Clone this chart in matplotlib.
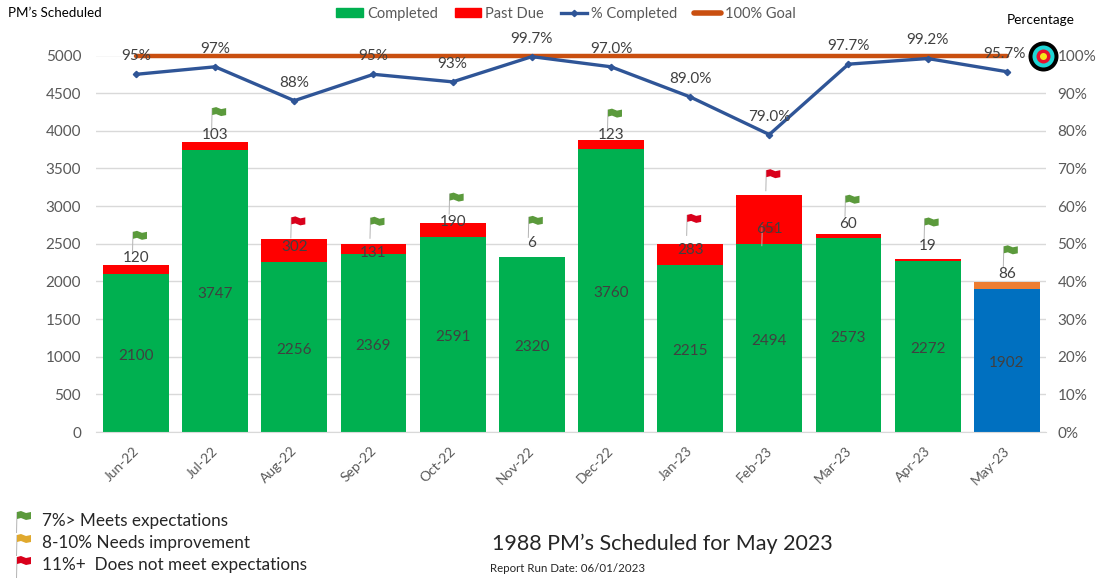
"""
PM's scheduled per month: stacked completed / past due bars with % completed line.
"""

import matplotlib
matplotlib.use("Agg")
import matplotlib.pyplot as plt
from matplotlib.lines import Line2D
from matplotlib.patches import Patch, Polygon
from matplotlib.transforms import Affine2D, ScaledTranslation

plt.rcParams["font.family"] = ["Lato", "DejaVu Sans"]

MONTHS = ["Jun-22", "Jul-22", "Aug-22", "Sep-22", "Oct-22", "Nov-22",
          "Dec-22", "Jan-23", "Feb-23", "Mar-23", "Apr-23", "May-23"]
COMPLETED = [2100, 3747, 2256, 2369, 2591, 2320, 3760, 2215, 2494, 2573, 2272, 1902]
PAST_DUE = [120, 103, 302, 131, 190, 6, 123, 283, 651, 60, 19, 86]
PCT_COMPLETED = [95, 97, 88, 95, 93, 99.7, 97, 89, 79, 97.7, 99.2, 95.7]
PCT_LABELS = ["95%", "97%", "88%", "95%", "93%", "99.7%",
              "97.0%", "89.0%", "79.0%", "97.7%", "99.2%", "95.7%"]
GOAL = [100] * 12
FLAG_STATUS = ["g", "g", "r", "g", "g", "g", "g", "r", "r", "g", "g", "g"]

GREEN = "#00b050"
RED = "#ff0000"
BLUE = "#0070c0"
ORANGE = "#ed7d31"
LINE_BLUE = "#2f5597"
GOAL_ORANGE = "#c94f10"
GRID = "#d9d9d9"
TICK_TEXT = "#595959"
LABEL_TEXT = "#404040"
FLAG_COLORS = {"g": "#5b9a3c", "y": "#e0a92e", "r": "#d9001b"}

# pixel offsets from the top of each stack, hand tuned like the original labels
PAST_DUE_LABEL_DY = [7, 7, -8, -9, 1, 14, 5, -6, -34, 10, 13, 8]
FLAG_DY = [29, 30, 18, 22, 25, 36, 26, 25, 21, 34, 37, 32]

W, H = 1099, 580


def flag_shape(color):
    """Small flag in pixel units, origin at the banner centre."""
    banner = [(-7, 4), (-3, 5), (2, 3), (7, 4), (7, -3), (2, -4), (-3, -2), (-7, -3)]
    pole = [(-7.5, 4), (-6.5, 4), (-7, -17), (-8, -17)]
    return [Polygon(pole, closed=True, fc="#b5b5b5", ec="none"),
            Polygon(banner, closed=True, fc=color, ec="none")]


def add_flag(ax, x, y, color, dx, dy):
    tr = Affine2D().translate(dx, dy) + ScaledTranslation(x, y, ax.transData)
    for p in flag_shape(color):
        p.set_transform(tr)
        p.set_clip_on(False)
        p.set_zorder(6)
        ax.add_artist(p)


def add_fig_flag(fig, px, py, color):
    tr = Affine2D().translate(px, H - py)
    for p in flag_shape(color):
        p.set_transform(tr)
        fig.add_artist(p)


def fig_text(fig, px, py, s, **kw):
    fig.text(px / W, 1 - py / H, s, va="center", ha=kw.pop("ha", "left"), **kw)


def main():
    fig = plt.figure(figsize=(W / 100, H / 100), dpi=100)
    ax = fig.add_axes([96.4 / W, 1 - 432 / H, 950 / W, 376.5 / H])

    x = list(range(len(MONTHS)))
    totals = [c + p for c, p in zip(COMPLETED, PAST_DUE)]
    low_colors = [GREEN] * 11 + [BLUE]
    top_colors = [RED] * 11 + [ORANGE]

    ax.bar(x, COMPLETED, width=0.83, color=low_colors, zorder=2)
    ax.bar(x, PAST_DUE, width=0.83, bottom=COMPLETED, color=top_colors, zorder=2)

    ax.set_xlim(-0.5, 11.5)
    ax.set_ylim(0, 5000)
    ax.set_yticks(range(0, 5001, 500))
    ax.set_xticks(x)
    ax.set_xticklabels(MONTHS, rotation=45, ha="right")
    ax.tick_params(axis="both", length=0, labelsize=11, labelcolor=TICK_TEXT)
    ax.tick_params(axis="x", labelsize=10, pad=9)
    ax.tick_params(axis="y", pad=11)
    # tick_params resets the label transforms, so the shift has to come after it
    shift = ScaledTranslation(5 / 100, 0, fig.dpi_scale_trans)
    for lab in ax.get_xticklabels():
        lab.set_transform(lab.get_transform() + shift)
    ax.grid(axis="y", color=GRID, lw=1)
    ax.set_axisbelow(True)
    for name, spine in ax.spines.items():
        spine.set_visible(name == "bottom")
        spine.set_color(GRID)

    ax2 = ax.twinx()
    ax2.set_ylim(0, 100)
    ax2.set_yticks(range(0, 101, 10))
    ax2.set_yticklabels([f"{v}%" for v in range(0, 101, 10)])
    ax2.tick_params(axis="y", length=0, labelsize=11, labelcolor=TICK_TEXT, pad=8)
    for spine in ax2.spines.values():
        spine.set_visible(False)

    ax2.plot(x, GOAL, color=GOAL_ORANGE, lw=3.2, solid_capstyle="round", zorder=3, clip_on=False)
    ax2.plot(x, PCT_COMPLETED, color=LINE_BLUE, lw=2.4, marker="D", ms=3.2, zorder=4, clip_on=False)

    for i, (val, lab) in enumerate(zip(PCT_COMPLETED, PCT_LABELS)):
        ax2.annotate(lab, (i, val), xytext=(-1.5 if i == 11 else 0, 13), textcoords="offset points",
                     ha="center", va="center", fontsize=11, color=LABEL_TEXT, zorder=7)

    for i in x:
        ax2.annotate(str(COMPLETED[i]), (i, COMPLETED[i] / 2 / 50), xytext=(0, -2),
                     textcoords="offset points", ha="center", va="center",
                     fontsize=11, color=LABEL_TEXT, zorder=7)
        ax2.annotate(str(PAST_DUE[i]), (i, totals[i] / 50),
                     xytext=(0, PAST_DUE_LABEL_DY[i] * 0.72), textcoords="offset points",
                     ha="center", va="center", fontsize=11, color=LABEL_TEXT, zorder=7)
        add_flag(ax2, i, totals[i] / 50, FLAG_COLORS[FLAG_STATUS[i]], 4, FLAG_DY[i])

    # the faint dark flag that sits behind the Feb-23 past due label
    add_flag(ax2, 8, totals[8] / 50, "#e00000", 0, -34)

    # target icon at the end of the goal line
    for size, color in zip([30, 22, 14, 7], ["black", "#1fd6d6", "#e8112d", "#f5e61a"]):
        ax2.scatter(11.46, 100, s=(size * 0.72) ** 2, color=color, zorder=8, clip_on=False, linewidths=0)

    handles = [
        Patch(color=GREEN, label="Completed"),
        Patch(color=RED, label="Past Due"),
        Line2D([], [], color=LINE_BLUE, lw=2.4, marker="D", ms=3.2, label="% Completed"),
        Line2D([], [], color=GOAL_ORANGE, lw=4, solid_capstyle="round", label="100% Goal"),
    ]
    fig.legend(handles=handles, ncols=4, loc="center", bbox_to_anchor=(566 / W, 1 - 14 / H),
               frameon=False, fontsize=10.5, labelcolor=TICK_TEXT, handlelength=1.8,
               handletextpad=0.3, columnspacing=1.15, handleheight=0.6)

    fig_text(fig, 8, 13, "PM\u2019s Scheduled", fontsize=9.6, color="black")
    fig_text(fig, 1007, 20, "Percentage", fontsize=9.8, color="black")

    add_fig_flag(fig, 24, 516, FLAG_COLORS["g"])
    add_fig_flag(fig, 24, 539, FLAG_COLORS["y"])
    add_fig_flag(fig, 24, 561, FLAG_COLORS["r"])
    fig_text(fig, 42, 521, "7%> Meets expectations", fontsize=12.3, color="#262626")
    fig_text(fig, 42, 543, "8-10% Needs improvement", fontsize=12.3, color="#262626")
    fig_text(fig, 42, 565, "11%+  Does not meet expectations", fontsize=12.3, color="#262626")

    fig_text(fig, 492, 544, "1988 PM\u2019s Scheduled for May 2023", fontsize=15.5, color="#262626")
    fig_text(fig, 490, 568, "Report Run Date: 06/01/2023", fontsize=8.3, color="#262626")

    fig.savefig("out.png", dpi=100, facecolor="white")


if __name__ == "__main__":
    main()
